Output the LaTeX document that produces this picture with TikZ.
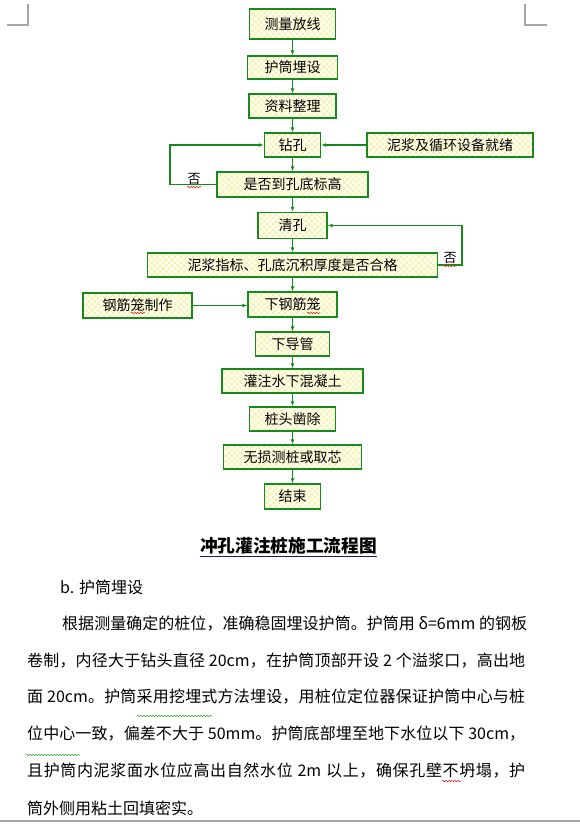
\documentclass[tikz,border=0pt]{standalone}
\usepackage{fontspec}
\setmainfont{Noto Sans CJK SC}
\usetikzlibrary{arrows.meta,patterns.meta,decorations.pathmorphing}
\definecolor{ink}{HTML}{000000}
\definecolor{flowgreen}{HTML}{168A1E}
\definecolor{hatch}{HTML}{F2EE78}
\definecolor{pagegrey}{HTML}{A6A6A6}
\definecolor{navy}{HTML}{1A1A78}
\definecolor{spellred}{HTML}{E0241B}
\definecolor{gramgreen}{HTML}{3BA13B}
% justified line: equal glue between the items of #2
\ExplSyntaxOn
\cs_new_protected:Npn \spreadline #1 #2
  { \makebox [#1] [s] { \tl_map_inline:nn {#2} { ##1 \hfil } \unskip } }
\ExplSyntaxOff
\tikzset{
  flowbox/.style={draw=flowgreen,line width=1.3pt,
    pattern={Hatch[angle=45,distance=4.2pt,line width=.5pt]},pattern color=hatch,
    inner sep=0pt,minimum height=24pt,font=\fontsize{14}{16}\selectfont},
  flowline/.style={flowgreen,line width=1.1pt,-{Latex[length=5pt,width=4pt]}},
  squiggle/.style={line width=.6pt,decorate,
    decoration={snake,amplitude=.7pt,segment length=3pt}},
  bodyline/.style={anchor=west,inner sep=0pt,font=\fontsize{16}{18}\selectfont},
}
\begin{document}
\begin{tikzpicture}[x=1pt,y=-1pt,text=ink]
  \useasboundingbox (0,0) rectangle (580,824);
  % Page corner marks.
  \draw[pagegrey,line width=1.2pt] (7,25) -- (28,25) -- (28,4);
  \draw[pagegrey,line width=1.2pt] (525,4) -- (525,25) -- (547,25);
  \draw[pagegrey,line width=2pt] (0,821) -- (580,821);

  % Main column.
  \node[flowbox,minimum width=86pt,minimum height=30pt] (survey) at (292.5,24) {测量放线};
  \node[flowbox,minimum width=90pt,minimum height=23pt] (casing) at (292.5,67.5) {护筒埋设};
  \node[flowbox,minimum width=87pt] (records) at (292.5,106) {资料整理};
  \node[flowbox,minimum width=56pt] (drill) at (292.5,145) {钻孔};
  \node[flowbox,minimum width=151pt,minimum height=25pt] (depthchk) at (292.5,184.5) {是否到孔底标高};
  \node[flowbox,minimum width=69pt,minimum height=26pt] (clean) at (292.5,225.5) {清孔};
  \node[flowbox,minimum width=290pt] (mudchk) at (292.5,265) {泥浆指标、孔底沉积厚度是否合格};
  \node[flowbox,minimum width=89pt,minimum height=25pt] (cage) at (292.5,304.5) {下钢筋笼};
  \node[flowbox,minimum width=74pt] (tremie) at (292.5,344) {下导管};
  \node[flowbox,minimum width=141pt] (pour) at (292.5,381) {灌注水下混凝土};
  \node[flowbox,minimum width=86pt] (headcut) at (292.5,419) {桩头凿除};
  \node[flowbox,minimum width=138pt] (testing) at (292.5,457) {无损测桩或取芯};
  \node[flowbox,minimum width=56pt,minimum height=25pt] (finish) at (292.5,496.5) {结束};

  % Side inputs.
  \node[flowbox,minimum width=166pt] (mudready) at (450,145) {泥浆及循环设备就绪};
  \node[flowbox,minimum width=109pt,minimum height=25pt] (cagemake) at (137.5,305.5) {钢筋笼制作};

  % Flow.
  \draw[flowline] (survey) -- (casing);
  \draw[flowline] (casing) -- (records);
  \draw[flowline] (records) -- (drill);
  \draw[flowline] (drill) -- (depthchk);
  \draw[flowline] (depthchk) -- (clean);
  \draw[flowline] (clean) -- (mudchk);
  \draw[flowline] (mudchk) -- (cage);
  \draw[flowline] (cage) -- (tremie);
  \draw[flowline] (tremie) -- (pour);
  \draw[flowline] (pour) -- (headcut);
  \draw[flowline] (headcut) -- (testing);
  \draw[flowline] (testing) -- (finish);
  \draw[flowline] (mudready) -- (drill);
  \draw[flowline] (cagemake.east) -- (cagemake.east -| cage.west);

  % Return loops.
  \coordinate (loopL) at (170,165);
  \coordinate (loopR) at (462,245);
  \draw[flowline] (depthchk.west) -| (loopL) |- (drill.west);
  \draw[flowline] (mudchk.east) -| (loopR) |- (clean.east);
  \node[inner sep=0pt,font=\fontsize{13}{15}\selectfont] (noL) at (194,179) {否};
  \node[inner sep=0pt,font=\fontsize{13}{15}\selectfont] (noR) at (450,258) {否};

  % Proofing marks.
  \draw[spellred,squiggle] (187,187) -- (201,187);
  \draw[spellred,squiggle] (443,266) -- (457,266);
  \draw[spellred,squiggle] (131,313) -- (145,313);
  \draw[spellred,squiggle] (307,313) -- (320,313);

  % Caption and text.
  \node[inner sep=0pt,font=\fontsize{17.7}{20}\selectfont\bfseries] (title) at (288.5,546) {冲孔灌注桩施工流程图};
  \draw[navy,line width=1pt] ([yshift=-1.5pt]title.south west) -- ([yshift=-1.5pt]title.south east);
  \node[bodyline] (sub) at (60,587) {b. 护筒埋设};
  \node[bodyline] (para1) at (62,624) {\spreadline{465pt}{根据测量确定的桩位，准确稳固埋设护筒。护筒用~{δ=6mm}~的钢板}};
  \node[bodyline] (para2) at (27,661) {\spreadline{498pt}{卷制，内径大于钻头直径~{20cm}，在护筒顶部开设~2~个溢浆口，高出地}};
  \node[bodyline] (para3) at (27,697) {\spreadline{498pt}{面~{20cm}。护筒采用挖埋式方法埋设，用桩位定位器保证护筒中心与桩}};
  \node[bodyline] (para4) at (27,734) {\spreadline{498pt}{位中心一致，偏差不大于~{50mm}。护筒底部埋至地下水位以下~{30cm}，}};
  \node[bodyline] (para5) at (27,771) {\spreadline{498pt}{且护筒内泥浆面水位应高出自然水位~{2m}~以上，确保孔壁不坍塌，护}};
  \node[bodyline] (para6) at (27,808) {筒外侧用粘土回填密实。};
  \draw[gramgreen,squiggle] (137,716) -- (212,716);
  \draw[gramgreen,squiggle] (26,755) -- (80,755);
  \draw[spellred,squiggle] (442,781) -- (461,781);
\end{tikzpicture}
\end{document}
